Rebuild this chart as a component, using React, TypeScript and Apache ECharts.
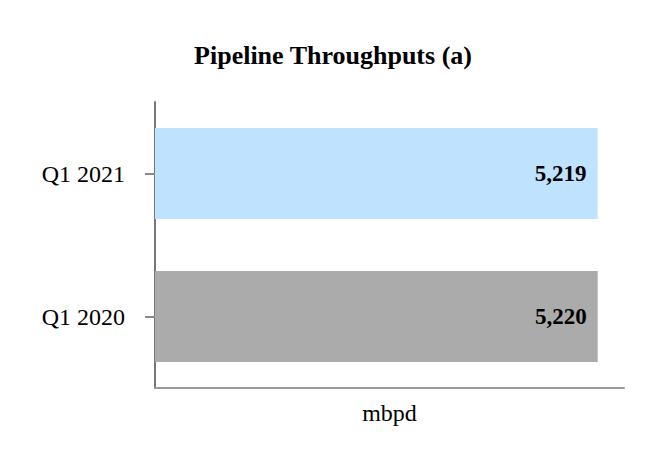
import React, { useEffect, useRef } from "react";
import * as echarts from "echarts";

const categories = ["Q1 2020", "Q1 2021"];
const values = [5220, 5219];
const barColors = ["#ababab", "#bfe3ff"];
const titleText = "Pipeline Throughputs (a)";
const unitName = "mbpd";

export default function App() {
  const ref = useRef<HTMLDivElement>(null);
  useEffect(() => {
    if (!ref.current) return;
    const chart = echarts.init(ref.current, undefined, { renderer: "svg" });
    const font = "'Liberation Serif', 'Times New Roman', serif";
    chart.setOption({
      animation: false,
      title: {
        text: titleText,
        left: "center",
        top: 37,
        textStyle: { fontFamily: font, fontSize: 26, fontWeight: "bold", color: "#000" },
      },
      grid: { left: 155, right: 42, top: 102, bottom: 80, containLabel: false },
      xAxis: {
        type: "value",
        min: 0,
        max: 5530,
        name: unitName,
        nameLocation: "middle",
        nameGap: 13,
        nameTextStyle: { fontFamily: font, fontSize: 24, color: "#000" },
        axisLine: { show: true, lineStyle: { color: "#999", width: 2 } },
        axisTick: { show: false },
        axisLabel: { show: false },
        splitLine: { show: false },
      },
      yAxis: {
        type: "category",
        data: categories,
        axisLine: { show: true, lineStyle: { color: "#777", width: 2 } },
        axisTick: { show: true, alignWithLabel: true, length: 10, lineStyle: { color: "#888", width: 2 } },
        axisLabel: { fontFamily: font, fontSize: 24, color: "#000", margin: 30 },
      },
      series: [
        {
          type: "bar",
          barWidth: 91,
          data: values.map((v, i) => ({ value: v, itemStyle: { color: barColors[i] } })),
          label: {
            show: true,
            position: "insideRight",
            distance: 11,
            fontFamily: font,
            fontSize: 23,
            fontWeight: "bold",
            color: "#000",
            formatter: (p: any) => Number(p.value).toLocaleString("en-US"),
          },
        },
      ],
    });
    return () => chart.dispose();
  }, []);
  return <div ref={ref} style={{ width: 666, height: 468, position: "absolute", left: 0, top: 0 }} />;
}
